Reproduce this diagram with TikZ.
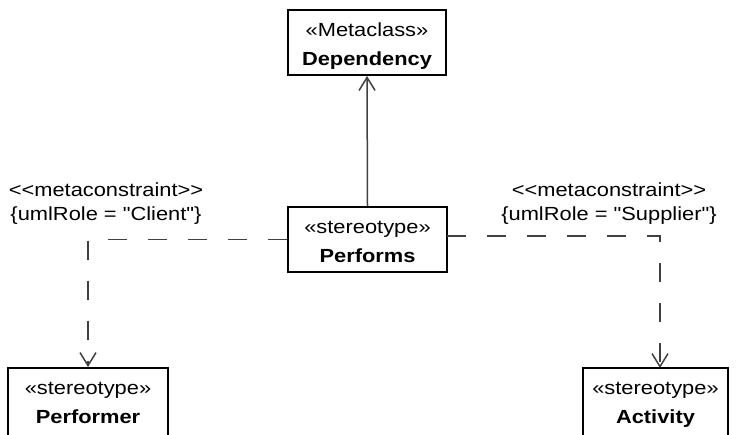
\documentclass[tikz,border=0pt]{standalone}
\usepackage{fontspec}
\setmainfont{Liberation Sans}[FakeStretch=1.15, Ligatures=TeXOff]
\usetikzlibrary{arrows.meta}
\begin{document}
\begin{tikzpicture}[x=1pt,y=-1pt,
  umlbox/.style={draw=black, line width=2pt, rectangle, inner sep=0pt},
  boxtext/.style={anchor=base, inner sep=0pt, font=\fontsize{19}{29}\selectfont},
  nametext/.style={anchor=base, inner sep=0pt, font=\fontsize{19}{29}\selectfont\bfseries},
  conn/.style={draw=black!75, line width=1.5pt},
  dep/.style={conn, dash pattern=on 19pt off 21pt},
  openarrow/.style={-{Straight Barb[length=13pt,width=16pt,line width=1.5pt]}},
  note/.style={align=center, inner sep=0pt, anchor=base, font=\fontsize{19}{24}\selectfont}
]
\path[use as bounding box, clip] (0,0) rectangle (738,434);

% classifier boxes
\node[umlbox, minimum width=158pt, minimum height=65pt] (dependency) at (367,42.5) {};
\node[umlbox, minimum width=159pt, minimum height=65pt] (performs) at (367.5,239.5) {};
\node[umlbox, minimum width=160pt, minimum height=80pt] (performer) at (88,408) {};
\node[umlbox, minimum width=145pt, minimum height=80pt] (activity) at (655.5,408) {};

% box captions
\node[boxtext] (depst) at (367,36) {«Metaclass»};
\node[nametext] (depnm) at (367,65) {Dependency};
\node[boxtext] (perfst) at (367.5,233) {«stereotype»};
\node[nametext] (perfnm) at (367.5,262) {Performs};
\node[boxtext] (permst) at (88,394) {«stereotype»};
\node[nametext] (permnm) at (88,423) {Performer};
\node[boxtext] (actst) at (655.5,394) {«stereotype»};
\node[nametext] (actnm) at (655.5,423) {Activity};

% extension of the metaclass
\draw[conn, openarrow] (performs.north) -- (dependency.south);

% metaconstraint dependencies
\coordinate (lstart) at (performs.west);
\coordinate (rstart) at (447,236);
\coordinate (rend) at (660,368);
\draw[dep, openarrow] (lstart) -| (performer.north);
\draw[dep, openarrow] (rstart) -| (rend);

% constraint notes
\node[note] (clientnote) at (106,220) {<<metaconstraint>>\\\{umlRole = "Client"\}};
\node[note] (suppliernote) at (609,220) {<<metaconstraint>>\\\{umlRole = "Supplier"\}};
\end{tikzpicture}
\end{document}
